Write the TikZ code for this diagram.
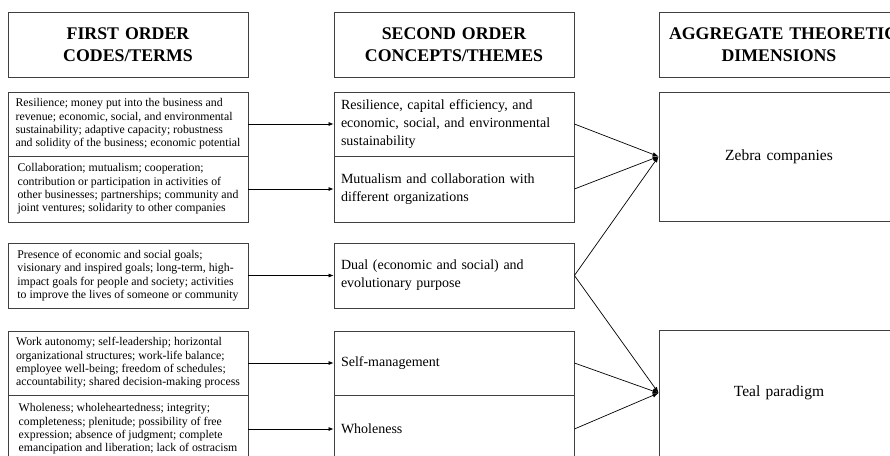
\documentclass[tikz,border=0pt]{standalone}
\usepackage{fontspec}
\setmainfont{Liberation Serif}
\usetikzlibrary{arrows.meta}
\begin{document}
\begin{tikzpicture}[x=1pt,y=-1pt,
  box/.style={draw=black!75,line width=0.8pt,rectangle,minimum width=240pt,inner sep=0pt},
  head/.style={box,minimum height=65pt,align=center,text width=226pt,font=\bfseries\fontsize{17.8}{22.5}\selectfont},
  lbox/.style={box,align=left,font=\fontsize{11.8}{13.3}\selectfont},
  mbox/.style={box,text width=226pt,align=left,font=\fontsize{14}{18}\selectfont},
  rbox/.style={box,text width=240pt,align=center,font=\fontsize{15.5}{18}\selectfont},
  arr/.style={line width=0.7pt,-{Latex[length=5pt,width=4pt]}},
  conv/.style={line width=0.7pt,-{Latex[length=6pt,width=4.5pt]}}]
\useasboundingbox (0,0) rectangle (890,455);
% headers
\node[head] (h1) at (128,44.5) {FIRST ORDER\\CODES/TERMS};
\node[head] (h2) at (454,44.5) {SECOND ORDER\\CONCEPTS/THEMES};
\node[head,text width=220pt] (h3) at (779,44.5) {\mbox{AGGREGATE THEORETICAL}\\DIMENSIONS};
% left column
\node[lbox,minimum height=64pt] (l1) at (128,124) {Resilience; money put into the business and\\revenue; economic, social, and environmental\\sustainability; adaptive capacity; robustness\\and solidity of the business; economic potential};
\node[lbox,minimum height=66pt] (l2) at (128,189) {Collaboration; mutualism; cooperation;\\contribution or participation in activities of\\other businesses; partnerships; community and\\joint ventures; solidarity to other companies};
\node[lbox,minimum height=65pt] (l3) at (128,275.5) {Presence of economic and social goals;\\visionary and inspired goals; long-term, high-\\impact goals for people and society; activities\\to improve the lives of someone or community};
\node[lbox,minimum height=64pt] (l4) at (128,363) {Work autonomy; self-leadership; horizontal\\organizational structures; work-life balance;\\employee well-being; freedom of schedules;\\accountability; shared decision-making process};
\node[lbox,minimum height=68pt] (l5) at (128,429) {Wholeness; wholeheartedness; integrity;\\completeness; plenitude; possibility of free\\expression; absence of judgment; complete\\emancipation and liberation; lack of ostracism};
% middle column
\node[mbox,minimum height=64pt] (m1) at (454,124) {Resilience, capital efficiency, and\\economic, social, and environmental\\sustainability};
\node[mbox,minimum height=66pt] (m2) at (454,189) {Mutualism and collaboration with\\different organizations};
\node[mbox,minimum height=65pt] (m3) at (454,275.5) {Dual (economic and social) and\\evolutionary purpose};
\node[mbox,minimum height=64pt] (m4) at (454,363) {Self-management};
\node[mbox,minimum height=68pt] (m5) at (454,429) {Wholeness};
% right column
\node[rbox,minimum height=129pt] (z) at (779,156.5) {Zebra companies};
\node[rbox,minimum height=126pt] (t) at (779,393) {Teal paradigm};
% connectors
\foreach \i in {1,...,5} \draw[arr] (l\i.east) -- (m\i.west);
\draw[conv] (m1.east) -- (z.west);
\draw[conv] (m2.east) -- (z.west);
\draw[conv] (m3.east) -- (z.west);
\draw[conv] (m3.east) -- (t.west);
\draw[conv] (m4.east) -- (t.west);
\draw[conv] (m5.east) -- (t.west);
\end{tikzpicture}
\end{document}
